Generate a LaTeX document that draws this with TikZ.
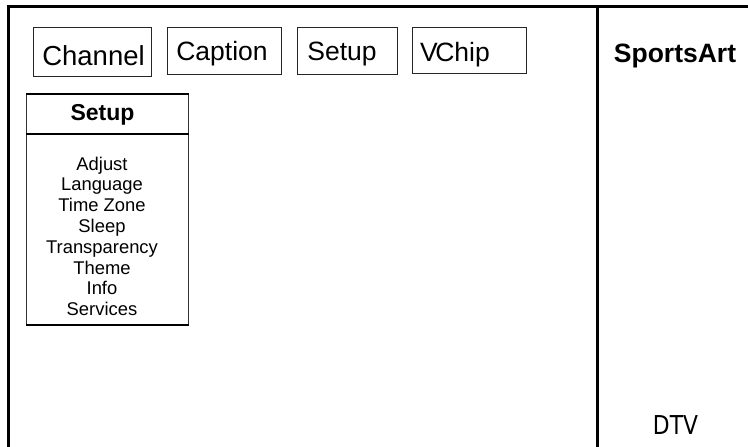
\documentclass[tikz,border=0pt]{standalone}
\usepackage{fontspec}
\setmainfont{Liberation Sans}
\newfontfamily\dtvfont[FakeStretch=0.84]{DejaVu Sans}
\usetikzlibrary{positioning}

\begin{document}
\begin{tikzpicture}[x=1pt, y=-1pt,
    btn/.style={draw=black!85, line width=1pt, minimum height=47pt, inner sep=0pt, anchor=north west},
    btnlabel/.style={anchor=base, font=\fontsize{26.5}{29}\selectfont},
    item/.style={font=\fontsize{18.4}{20.8}\selectfont, align=center, inner sep=0pt}]

    \useasboundingbox (0,0) rectangle (748,447);

    % screen frame and side panel
    \draw[line width=3pt] (8.5,447) -- (8.5,6.5) -- (748,6.5);
    \draw[line width=3.5pt] (597.5,6.5) -- (597.5,447);

    \node[btn, minimum width=118pt, minimum height=49pt] (chan) at (33,27) {};
    \node[btn, minimum width=114pt, right=15pt of chan.north east, anchor=north west] (capt) {};
    \node[btn, minimum width=100pt, right=15pt of capt.north east, anchor=north west] (setup) {};
    \node[btn, minimum width=114pt, minimum height=46pt, right=14pt of setup.north east, anchor=north west] (vchip) {};

    \node[btnlabel, font=\fontsize{27.5}{30}\selectfont] (chanlabel) at (93.5,65) {Channel};
    \node[btnlabel] (captlabel) at (222,60.5) {Caption};
    \node[btnlabel] (setuplabel) at (342,60.5) {Setup};
    \node[btnlabel] (vchiplabel) at (455,61) {V\kern-2.5pt Chip};

    % open menu
    \node[draw=black!80, line width=1pt, minimum width=162pt, minimum height=230pt, anchor=north west] (menu) at (26,94) {};
    \draw[line width=1.5pt] (menu.north west) -- (menu.north east);
    \draw[line width=1.5pt] (menu.south west) -- (menu.south east);
    \draw[line width=2pt] ([yshift=-39.7pt]menu.north west) -- ([yshift=-39.7pt]menu.north east);

    \node[anchor=base, font=\bfseries\fontsize{23}{26}\selectfont] (menuhead) at (102.5,120.5) {Setup};
    \node[item, anchor=north] (menulist) at (102,156.5)
        {Adjust\\Language\\Time Zone\\Sleep\\Transparency\\Theme\\Info\\Services};

    \node[anchor=base, font=\bfseries\fontsize{26.5}{30}\selectfont] (brand) at (675,62) {SportsArt};
    \node[anchor=base, font=\dtvfont\fontsize{26}{30}\selectfont] (dtv) at (675.5,434) {DTV};
\end{tikzpicture}
\end{document}
